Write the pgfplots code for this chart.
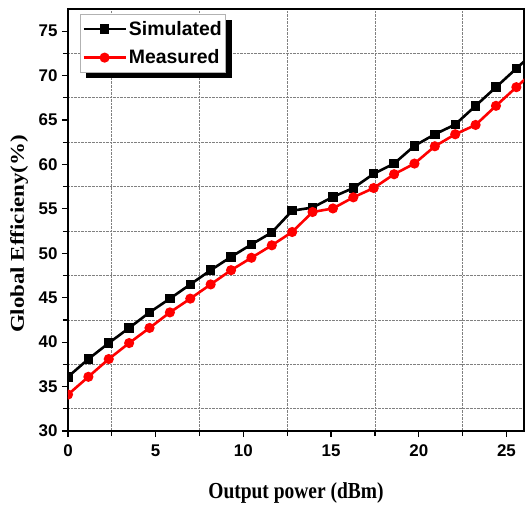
\documentclass[border=0pt]{standalone}
\usepackage{fontspec}
\setmainfont{Liberation Serif}
\newfontfamily\arialb{Liberation Sans}
\usepackage{pgfplots}
\pgfplotsset{compat=1.18}
\usetikzlibrary{shadows}
\makeatletter
\tikzset{nopre/.code={\let\tikz@preactions=\pgfutil@empty}}
\makeatother
\begin{document}
\begin{tikzpicture}
\begin{axis}[
  name=ax,
  scale only axis,
  width=456bp, height=422bp,
  xmin=0, xmax=26, ymin=30, ymax=77.5,
  xtick={0,5,10,15,20,25},
  ytick={30,35,40,45,50,55,60,65,70,75},
  minor tick num=1,
  tick pos=left,
  tick align=outside,
  major tick length=6bp,
  minor tick length=5bp,
  tick style={line width=1.2bp, black},
  grid=minor,
  minor grid style={densely dotted, gray, line width=0.7bp},
  axis line style={line width=1.6bp, black},
  /pgf/number format/assume math mode=true,
  ticklabel style={font=\arialb\bfseries\fontsize{17}{17}\selectfont},
  xticklabel style={yshift=-4bp},
  yticklabel style={xshift=-1bp},
  xlabel={\scalebox{0.85}[1]{Output power (dBm)}},
  ylabel={\scalebox{1}[0.85]{Global Efficieny(\%)}},
  label style={font=\bfseries\fontsize{23}{23}\selectfont},
  xlabel style={at={([yshift=-62bp]axis description cs:0.5,0)}, anchor=center},
  ylabel style={at={([xshift=-49bp,yshift=-14bp]axis description cs:0,0.5)}, anchor=center},
  clip marker paths=true,
  legend style={at={([xshift=12bp,yshift=-5bp]axis description cs:0,1)}, anchor=north west,
    draw=gray!60, line width=0.6bp, fill=white,
    font=\arialb\bfseries\fontsize{19.5}{19.5}\selectfont,
    drop shadow={shadow xshift=6bp, shadow yshift=-6bp, fill=black, opacity=1},
    inner xsep=2bp, inner ysep=5bp, row sep=9bp},
  legend cell align=left,
  legend image code/.code={
    \draw[nopre, mark repeat=2, mark phase=2, #1] plot coordinates {(0bp,0bp) (21bp,0bp) (42bp,0bp)};
  },
]
\addplot[black, line width=2.6bp, mark=square*, mark size=3.4bp, mark options={solid}] coordinates {
(0.000,36.1) (1.162,38.1) (2.324,39.9) (3.486,41.6) (4.648,43.35) (5.810,44.9)
(6.972,46.5) (8.134,48.1) (9.296,49.6) (10.458,51.0) (11.620,52.35) (12.782,54.8)
(13.944,55.15) (15.106,56.35) (16.268,57.35) (17.430,58.95) (18.592,60.1) (19.754,62.1)
(20.916,63.4) (22.078,64.5) (23.240,66.6) (24.402,68.7) (25.564,70.8) (26.726,72.9)
};
\addlegendentry{Simulated}
\addplot[red, line width=2.6bp, mark=*, mark size=3.7bp, mark options={solid}] coordinates {
(0.000,34.1) (1.162,36.1) (2.324,38.1) (3.486,39.9) (4.648,41.6) (5.810,43.35)
(6.972,44.9) (8.134,46.5) (9.296,48.1) (10.458,49.5) (11.620,50.9) (12.782,52.4)
(13.944,54.65) (15.106,55.05) (16.268,56.3) (17.430,57.35) (18.592,58.9) (19.754,60.1)
(20.916,62.05) (22.078,63.4) (23.240,64.45) (24.402,66.6) (25.564,68.7) (26.726,70.8)
};
\addlegendentry{Measured}
\end{axis}
\pgfresetboundingbox
\path (ax.south west) ++(-68bp,-79bp) rectangle ++(525bp,510bp);
\end{tikzpicture}
\end{document}
